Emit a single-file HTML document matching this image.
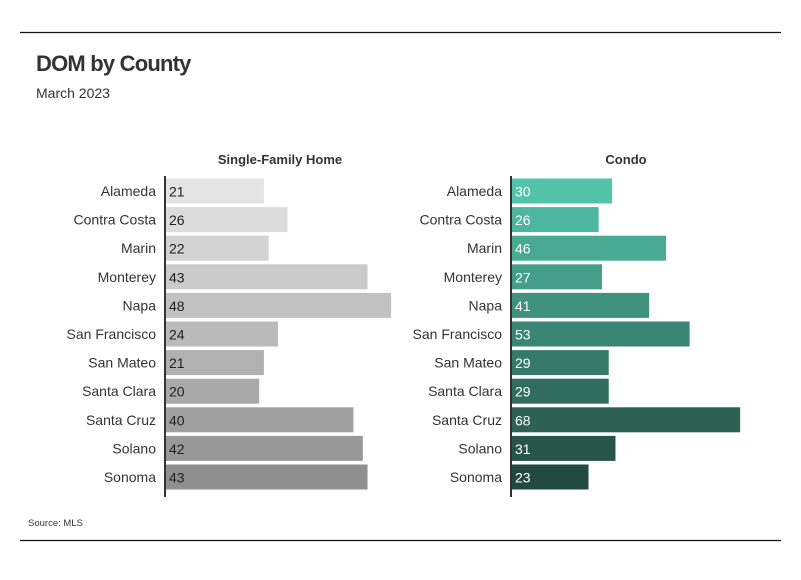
<!DOCTYPE html>
<html><head><meta charset="utf-8"><style>
body{margin:0;background:#fff;font-family:"Liberation Sans",sans-serif;}
svg text{font-family:"Liberation Sans",sans-serif;}
</style></head><body>
<svg width="801" height="575" viewBox="0 0 801 575" xmlns="http://www.w3.org/2000/svg">
<line x1="20" y1="32.5" x2="781" y2="32.5" stroke="#111" stroke-width="1.2"/>
<line x1="20" y1="540.5" x2="781" y2="540.5" stroke="#111" stroke-width="1.2"/>
<text x="36" y="71" font-size="22" font-weight="bold" fill="#333" letter-spacing="-0.8">DOM by County</text>
<text x="36" y="98" font-size="14" fill="#333">March 2023</text>
<text x="28" y="526" font-size="9.5" fill="#333">Source: MLS</text>
<g id="left"></g>
<g id="right"></g>
</svg>
<script>
const counties=["Alameda","Contra Costa","Marin","Monterey","Napa","San Francisco","San Mateo","Santa Clara","Santa Cruz","Solano","Sonoma"];
const sfhValues=[21,26,22,43,48,24,21,20,40,42,43];
const condoValues=[30,26,46,27,41,53,29,29,68,31,23];
const NS="http://www.w3.org/2000/svg";
function mk(t,a,p){const e=document.createElementNS(NS,t);for(const k in a)e.setAttribute(k,a[k]);p.appendChild(e);return e;}
function lerp(a,b,t){return a.map((v,i)=>Math.round(v+(b[i]-v)*t));}
function panel(g,values,axisX,scale,title,c0,c1,txtColor,slug){
  const y=i=>191+i*28.6;
  const t=mk('text',{x:axisX+115,y:164,'font-size':13,'font-weight':'bold','text-anchor':'middle',fill:'#333'},g);
  
  
  t.textContent=title;
  values.forEach((v,i)=>{
    const c=lerp(c0,c1,i/(values.length-1));
    const r=mk('rect',{x:axisX,y:y(i)-12.5,width:v*scale,height:25,fill:`rgb(${c})`},g);
    
    
    const l=mk('text',{x:axisX-9,y:y(i)+5,'font-size':14,'text-anchor':'end',fill:'#333'},g);
    
    
    l.textContent=counties[i];
    const vl=mk('text',{x:axisX+4,y:y(i)+5.5,'font-size':14,fill:txtColor},g);
    
    
    vl.textContent=v;
  });
  const ax=mk('line',{x1:axisX,y1:176,x2:axisX,y2:497,stroke:'#333','stroke-width':2},g);
  
  
}
panel(document.getElementById('left'),sfhValues,165,4.71,'Single-Family Home',[228,228,228],[143,143,143],'#222','sfh');
panel(document.getElementById('right'),condoValues,511,3.37,'Condo',[82,194,168],[34,73,63],'#fff','condo');
</script>
</body></html>
